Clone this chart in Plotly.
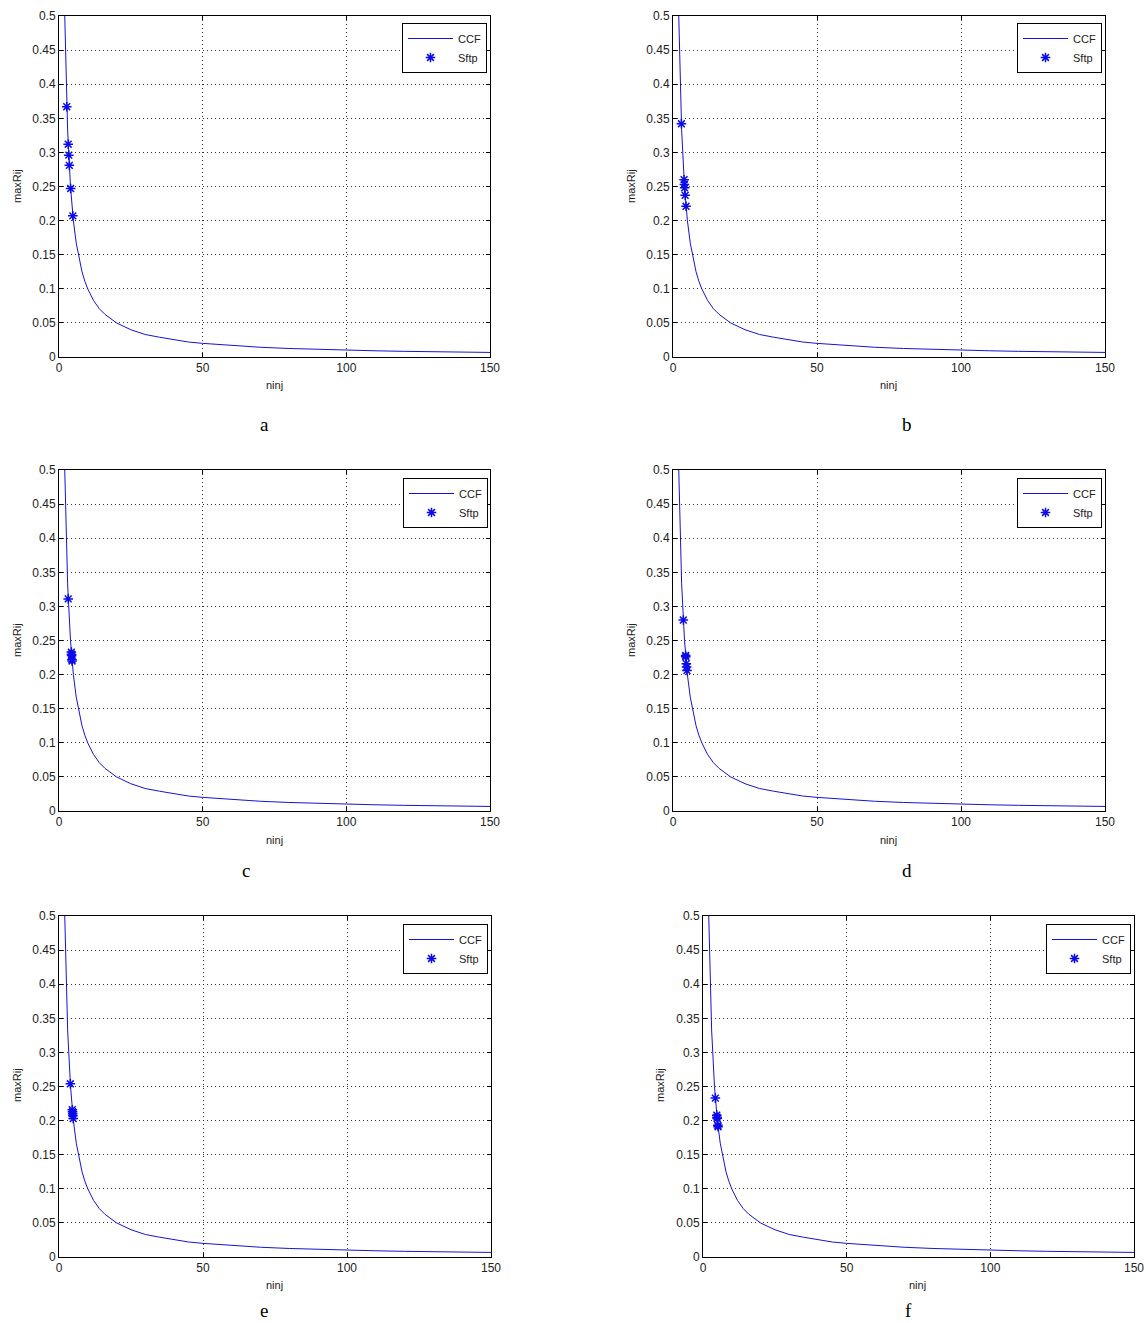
import plotly.graph_objects as go

W, H = 1147, 1323

ccf_x = [2, 3, 4, 5, 6, 7, 8, 9, 10, 12, 14, 16, 18, 20, 25, 30, 35, 40, 45, 50,
         60, 70, 80, 90, 100, 110, 120, 130, 140, 150]
ccf_y = [0.5, 0.333, 0.25, 0.2, 0.167, 0.143, 0.125, 0.111, 0.1, 0.083, 0.071,
         0.0625, 0.056, 0.05, 0.04, 0.033, 0.029, 0.025, 0.022, 0.02, 0.0167,
         0.0143, 0.0125, 0.0111, 0.01, 0.0091, 0.0083, 0.0077, 0.0071, 0.0067]

sftp_x_a = [2.7, 3.2, 3.4, 3.6, 4.05, 4.8]
sftp_y_a = [0.367, 0.312, 0.296, 0.281, 0.247, 0.207]
sftp_x_b = [2.92, 3.85, 3.95, 4.03, 4.22, 4.52]
sftp_y_b = [0.342, 0.26, 0.253, 0.248, 0.237, 0.221]
sftp_x_c = [3.2, 4.3, 4.35, 4.4, 4.5, 4.55]
sftp_y_c = [0.311, 0.233, 0.23, 0.228, 0.222, 0.22]
sftp_x_d = [3.57, 4.39, 4.42, 4.63, 4.74, 4.85]
sftp_y_d = [0.28, 0.228, 0.226, 0.216, 0.211, 0.206]
sftp_x_e = [3.94, 4.63, 4.7, 4.76, 4.83, 4.93]
sftp_y_e = [0.254, 0.216, 0.213, 0.21, 0.207, 0.203]
sftp_x_f = [4.29, 4.8, 4.88, 4.93, 5.18, 5.24]
sftp_y_f = [0.233, 0.208, 0.205, 0.203, 0.193, 0.191]

panel_letters = ["a", "b", "c", "d", "e", "f"]
sftp_xs = [sftp_x_a, sftp_x_b, sftp_x_c, sftp_x_d, sftp_x_e, sftp_x_f]
sftp_ys = [sftp_y_a, sftp_y_b, sftp_y_c, sftp_y_d, sftp_y_e, sftp_y_f]

x_ticks = [0, 50, 100, 150]
y_ticks = [0, 0.05, 0.1, 0.15, 0.2, 0.25, 0.3, 0.35, 0.4, 0.45, 0.5]
y_tick_labels = ["0", "0.05", "0.1", "0.15", "0.2", "0.25", "0.3", "0.35", "0.4", "0.45", "0.5"]

# pixel boxes of each axes: (left, right, top, bottom)
boxes = [(59, 490, 16, 357), (673, 1105, 16, 357),
         (59, 490, 470, 811), (673, 1105, 470, 811),
         (59, 491, 916, 1257), (703, 1134, 916, 1257)]
# letter positions: (x center, y of text box bottom)
letter_pos = [(264, 437), (907, 437), (246, 883), (907, 883), (264, 1323), (908, 1323)]
xlabel_pos = [(274, 385), (888, 385), (274, 840), (888, 840), (274, 1285), (917, 1285)]
ylabel_pos = [(17, 186), (631, 186), (17, 640), (631, 640), (17, 1085), (660, 1085)]
legend_pos = [(487, 23), (1102, 23), (488, 478), (1102, 478), (488, 924), (1131, 924)]

LINE = "rgb(20,20,210)"
MARK = "rgb(10,10,235)"
FONT = "Liberation Sans, Arial, sans-serif"

fig = go.Figure()
layout = dict(width=W, height=H, margin=dict(l=0, r=0, t=0, b=0),
              paper_bgcolor="white", plot_bgcolor="white", showlegend=True)
annotations = []

for i in range(6):
    n = i + 1
    xa = "x" if n == 1 else f"x{n}"
    ya = "y" if n == 1 else f"y{n}"
    lg = "legend" if n == 1 else f"legend{n}"
    fig.add_trace(go.Scatter(x=ccf_x, y=ccf_y, mode="lines", name="CCF",
                             line=dict(color=LINE, width=1),
                             xaxis=xa, yaxis=ya, legend=lg))
    fig.add_trace(go.Scatter(x=sftp_xs[i], y=sftp_ys[i], mode="markers", name="Sftp",
                             marker=dict(symbol="asterisk-open", size=8, color=MARK,
                                         line=dict(color=MARK, width=1.5)),
                             xaxis=xa, yaxis=ya, legend=lg))
    l, r, t, b = boxes[i]
    xkey = "xaxis" if n == 1 else f"xaxis{n}"
    ykey = "yaxis" if n == 1 else f"yaxis{n}"
    common = dict(showline=True, linecolor="black", linewidth=1, mirror="allticks",
                  ticks="inside", ticklen=4, tickcolor="black",
                  showgrid=True, gridcolor="rgba(30,30,30,0.9)", griddash="1px,3px",
                  gridwidth=1, zeroline=False, automargin=False,
                  tickfont=dict(family=FONT, size=12, color="#222"))
    layout[xkey] = dict(domain=[l / W, r / W], anchor=ya, range=[0, 150],
                        tickvals=x_ticks, ticktext=[str(v) for v in x_ticks], **common)
    layout[ykey] = dict(domain=[1 - b / H, 1 - t / H], anchor=xa, range=[0, 0.5],
                        tickvals=y_ticks, ticktext=y_tick_labels, **common)
    lx, ly = legend_pos[i]
    layout[lg] = dict(x=lx / W, y=1 - ly / H, xanchor="right", yanchor="top",
                      bordercolor="black", borderwidth=1, bgcolor="white",
                      font=dict(family=FONT, size=11, color="#222"),
                      itemwidth=45, tracegroupgap=0)
    px, py = letter_pos[i]
    annotations.append(dict(text=panel_letters[i], x=px / W, y=1 - py / H,
                            xref="paper", yref="paper", showarrow=False,
                            xanchor="center", yanchor="bottom",
                            font=dict(family="Liberation Serif, Times New Roman, serif",
                                      size=19, color="black")))
    qx, qy = xlabel_pos[i]
    annotations.append(dict(text="ninj", x=qx / W, y=1 - qy / H,
                            xref="paper", yref="paper", showarrow=False,
                            xanchor="center", yanchor="middle",
                            font=dict(family=FONT, size=11, color="#222")))
    rx, ry = ylabel_pos[i]
    annotations.append(dict(text="maxRij", x=rx / W, y=1 - ry / H,
                            xref="paper", yref="paper", showarrow=False,
                            xanchor="center", yanchor="middle", textangle=-90,
                            font=dict(family=FONT, size=11, color="#222")))

layout["annotations"] = annotations
fig.update_layout(**layout)
fig.write_html("out.html", config={"displayModeBar": False},
               post_script="document.body.style.margin='0';document.body.style.overflow='hidden';")
